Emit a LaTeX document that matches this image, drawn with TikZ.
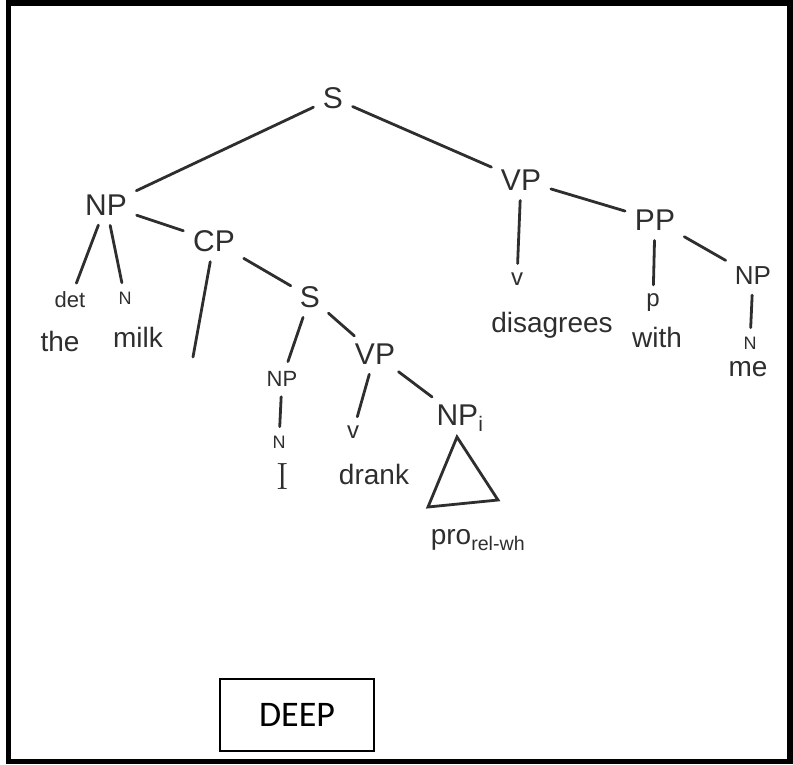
\documentclass[tikz,border=0pt]{standalone}
\usepackage{fontspec}
\usepackage{amssymb,amsmath}
\usepackage{tikz}
\usetikzlibrary{%
  calc,%
  positioning%
}
\newfontfamily\handfont{Liberation Sans}
\newfontfamily\boxfont{Carlito}
\definecolor{ink}{HTML}{2E2E2E}
\tikzset{>=latex,
  cat/.style={inner sep=3pt,text=ink,font=\handfont\fontsize{30}{32}\selectfont},
  smallcat/.style={inner sep=3pt,text=ink,font=\handfont\fontsize{22}{24}\selectfont},
  word/.style={inner sep=2pt,text=ink,font=\handfont\fontsize{28}{30}\selectfont},
  tag/.style={inner sep=2pt,text=ink,font=\handfont\fontsize{24}{26}\selectfont},
  ntag/.style={inner sep=2pt,text=ink,font=\handfont\fontsize{18}{20}\selectfont},
  branch/.style={draw=ink,line width=2.8pt,line cap=round,shorten <=7pt,shorten >=7pt}
}

\begin{document}
\begin{tikzpicture}[x=1pt,y=-1pt]
    \useasboundingbox (0,0) rectangle (793,764);
    \draw[line width=5.5pt] (8.5,2.75) rectangle (789.75,761.25);
    % top of the tree
    \node[cat] (S0) at (333,98) {S};
    \node[cat] (NP1) at (106,205) {NP};
    \node[cat] (VP1) at (521,180) {VP};
    % subject: the milk + relative clause
    \node[tag,font=\handfont\fontsize{22}{24}\selectfont] (det) at (70,300) {det};
    \node[ntag] (N1) at (125,298) {N};
    \node[word] (the) at (60,341) {the};
    \node[word] (milk) at (138,337) {milk};
    \node[cat] (CP) at (214,241) {CP};
    \coordinate (gap) at (193,357);
    \node[cat] (S1) at (310,297) {S};
    \node[smallcat] (NP2) at (282,379) {NP};
    \node[ntag] (N2) at (279,442) {N};
    \node[word,font=\fontsize{38}{40}\selectfont] (I) at (283,477) {I};
    \node[cat] (VP2) at (375,354) {VP};
    \node[tag] (v1) at (353,432) {v};
    \node[word] (drank) at (374,474) {drank};
    \node[cat] (NPi) at (460,418) {NP\textsubscript{i}};
    \coordinate (t1) at (457,437);
    \coordinate (t2) at (428,507);
    \coordinate (t3) at (498,500);
    \node[word] (pro) at (478,540) {pro\textsubscript{rel-wh}};
    % predicate
    \node[tag] (v2) at (517,279) {v};
    \node[word] (dis) at (552,325) {disagrees};
    \node[cat] (PP) at (655,220) {PP};
    \node[tag] (p) at (653,303) {p};
    \node[word] (with) at (657,337) {with};
    \node[smallcat,font=\handfont\fontsize{26}{28}\selectfont] (NP3) at (753,276) {NP};
    \node[ntag] (N3) at (750,343) {N};
    \node[word] (me) at (748,369) {me};
    % branches
    \draw[branch] (S0) -- (NP1);
    \draw[branch] (S0) -- (VP1);
    \draw[branch] (NP1) -- (det);
    \draw[branch] (NP1) -- (N1);
    \draw[branch] (NP1) -- (CP);
    \draw[branch,shorten >=0pt] (CP) -- (gap);
    \draw[branch] (CP) -- (S1);
    \draw[branch] (S1) -- (NP2);
    \draw[branch] (S1) -- (VP2);
    \draw[branch] (NP2) -- (N2);
    \draw[branch] (VP2) -- (v1);
    \draw[branch] (VP2) -- (NPi);
    \draw[branch,shorten <=0pt,shorten >=0pt] (t1) -- (t2) -- (t3) -- cycle;
    \draw[branch] (VP1) -- (v2);
    \draw[branch] (VP1) -- (PP);
    \draw[branch] (PP) -- (p);
    \draw[branch] (PP) -- (NP3);
    \draw[branch] (NP3) -- (N3);
    % label box
    \node[draw,line width=2.5pt,minimum width=154pt,minimum height=72pt,
      font=\boxfont\fontsize{36}{38}\selectfont] (deep) at (297,715) {DEEP};
  \end{tikzpicture}
\end{document}
